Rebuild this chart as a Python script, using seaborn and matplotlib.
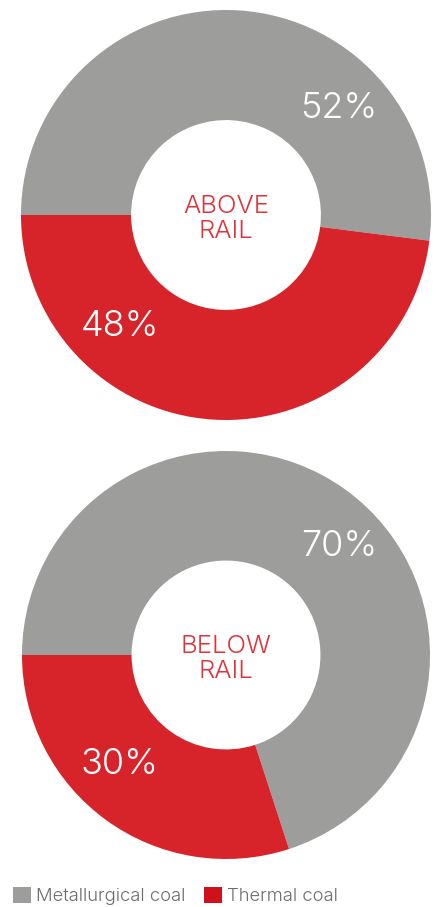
import matplotlib
matplotlib.use("Agg")
import matplotlib.pyplot as plt
from matplotlib.patches import Patch
import seaborn as sns

# ---- data ----
categories = ["Metallurgical coal", "Thermal coal"]
above_rail = [52, 48]
below_rail = [70, 30]
panel_titles = ["ABOVE\nRAIL", "BELOW\nRAIL"]
colors = ["#9d9d9c", "#d7242b"]
legend_colors = ["#9d9d9c", "#d0111b"]

sns.set_theme(style="white")
plt.rcParams["font.family"] = ["Inter", "DejaVu Sans"]

W, H = 439, 907
fig = plt.figure(figsize=(W / 100, H / 100), dpi=100)

def add_donut(values, title, cx, cy, r):
    ax = fig.add_axes([(cx - r) / W, 1 - (cy + r) / H, 2 * r / W, 2 * r / H])
    wedges, texts = ax.pie(values, colors=colors, startangle=180, counterclock=False,
                           radius=1, wedgeprops=dict(width=0.537, linewidth=0))
    ax.set_xlim(-1, 1)
    ax.set_ylim(-1, 1)
    ax.set_aspect("equal")
    ax.axis("off")
    ax.text(0, -0.02, title, ha="center", va="center", color="#e0323a",
            fontsize=18.5, fontweight=300, linespacing=1.15)
    return ax

ax1 = add_donut(above_rail, panel_titles[0], 226, 215, 205)
ax2 = add_donut(below_rail, panel_titles[1], 226, 655, 204)

def pct_label(ax, val, px, py, cx, cy, r):
    ax.text((px - cx) / r, (cy - py) / r, f"{val}%", ha="center", va="center",
            color="white", fontsize=26, fontweight=300)

pct_label(ax1, above_rail[0], 339, 108, 226, 215, 205)
pct_label(ax1, above_rail[1], 120, 327, 226, 215, 205)
pct_label(ax2, below_rail[0], 339, 546, 226, 655, 204)
pct_label(ax2, below_rail[1], 120, 764, 226, 655, 204)

handles = [Patch(facecolor=c, edgecolor="none", label=l) for c, l in zip(legend_colors, categories)]
leg = fig.legend(handles=handles, loc="lower left", bbox_to_anchor=(0.005, -0.01),
                 ncol=2, frameon=False, handlelength=0.95, handleheight=0.95,
                 handletextpad=0.3, columnspacing=1.0, borderaxespad=0.2,
                 prop=dict(family=["Inter", "DejaVu Sans"], weight=300, size=13.3))
for t in leg.get_texts():
    t.set_color("#6d6d6d")

fig.savefig("out.png", dpi=100)
